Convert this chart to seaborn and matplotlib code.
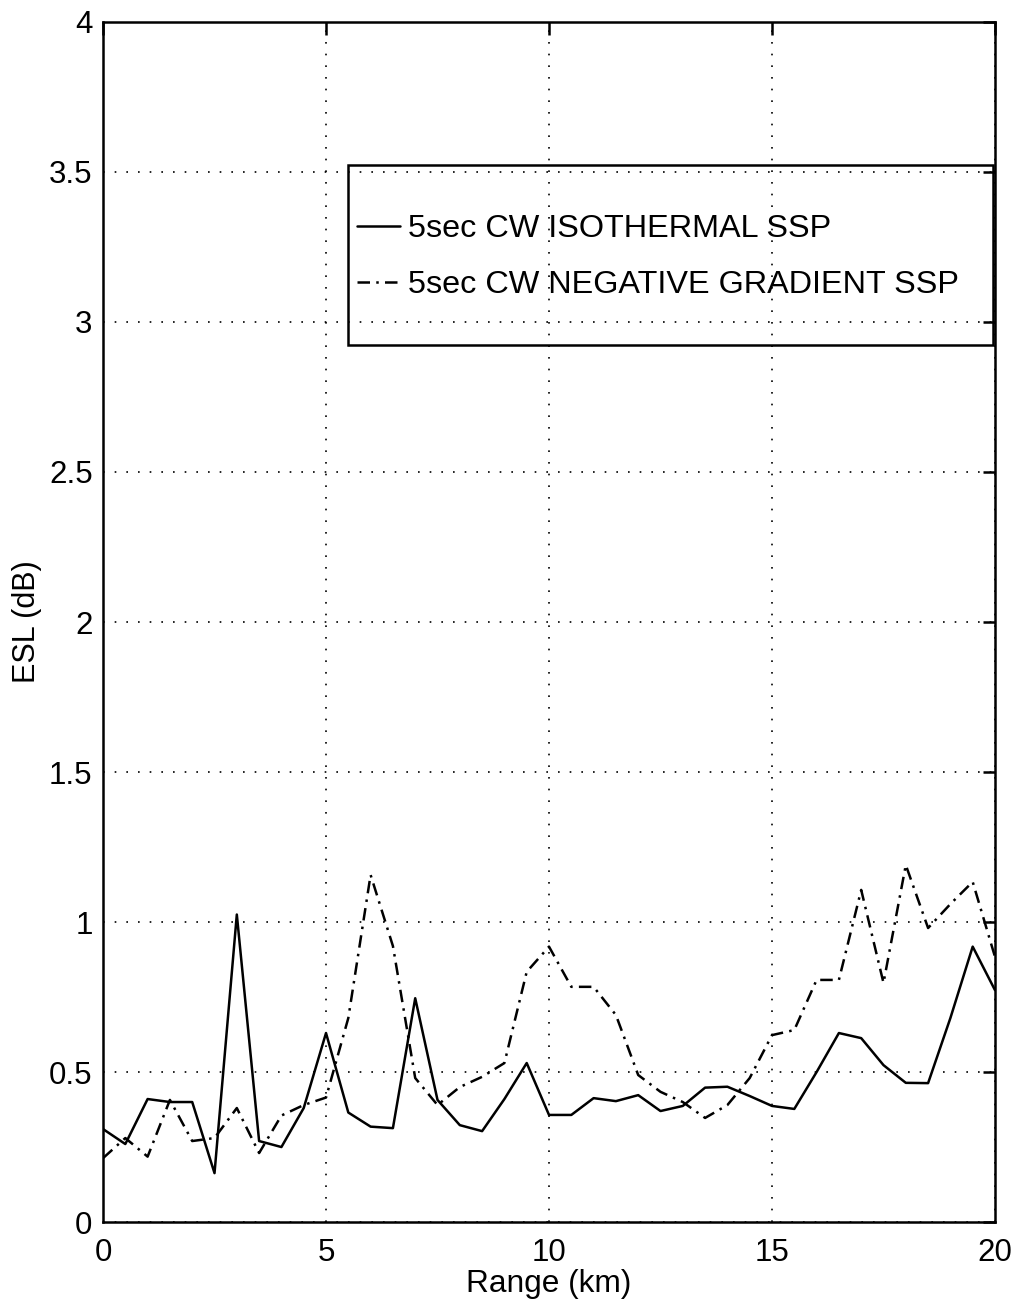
import numpy as np
import pandas as pd
import seaborn as sns
import matplotlib
matplotlib.use("Agg")
import matplotlib.pyplot as plt
from matplotlib.patches import Rectangle
from matplotlib.ticker import FuncFormatter

# Range samples (km) and equivalent source level error for the two sound speed profiles
range_km = [0.0, 0.5, 1.0, 1.5, 2.0, 2.5, 3.0, 3.5, 4.0, 4.5, 5.0,
            5.5, 6.0, 6.5, 7.0, 7.5, 8.0, 8.5, 9.0, 9.5, 10.0,
            10.5, 11.0, 11.5, 12.0, 12.5, 13.0, 13.5, 14.0, 14.5, 15.0,
            15.5, 16.0, 16.5, 17.0, 17.5, 18.0, 18.5, 19.0, 19.5, 20.0]

esl_isothermal = [0.31, 0.26, 0.41, 0.40, 0.40, 0.163, 1.025, 0.27, 0.25, 0.38, 0.63,
                  0.365, 0.318, 0.313, 0.746, 0.407, 0.323, 0.303, 0.41, 0.53, 0.357,
                  0.357, 0.413, 0.403, 0.423, 0.37, 0.387, 0.448, 0.451, 0.42, 0.387,
                  0.377, 0.50, 0.63, 0.613, 0.523, 0.464, 0.463, 0.68, 0.918, 0.773]

esl_neg_gradient = [0.213, 0.28, 0.218, 0.407, 0.27, 0.28, 0.38, 0.23, 0.355, 0.39, 0.415,
                    0.68, 1.157, 0.92, 0.48, 0.39, 0.45, 0.484, 0.53, 0.834, 0.918,
                    0.784, 0.784, 0.69, 0.49, 0.434, 0.40, 0.347, 0.39, 0.48, 0.623,
                    0.64, 0.807, 0.807, 1.107, 0.797, 1.19, 0.98, 1.06, 1.134, 0.884]

label_iso = "5sec CW ISOTHERMAL SSP"
label_neg = "5sec CW NEGATIVE GRADIENT SSP"

x_ticks = [0, 5, 10, 15, 20]
y_ticks = [0, 0.5, 1, 1.5, 2, 2.5, 3, 3.5, 4]

df = pd.DataFrame({
    "Range": range_km * 2,
    "ESL": esl_isothermal + esl_neg_gradient,
    "profile": [label_iso] * len(range_km) + [label_neg] * len(range_km),
})

sns.set_style("white")
plt.rcParams["font.family"] = ["Liberation Sans", "DejaVu Sans"]
plt.rcParams["text.color"] = "black"
plt.rcParams["axes.labelcolor"] = "black"

fig = plt.figure(figsize=(10.18, 13.07), dpi=100)
ax = fig.add_axes([0.1012, 0.065, 0.8762, 0.9182])

sns.lineplot(data=df, x="Range", y="ESL", style="profile",
             dashes={label_iso: "", label_neg: (5, 2.5, 1, 2.5)},
             color="black", linewidth=1.8, legend=False, ax=ax,
             estimator=None, sort=False)

ax.set_xlim(0, 20)
ax.set_ylim(0, 4)
ax.set_xticks(x_ticks)
ax.set_yticks(y_ticks)
fmt = FuncFormatter(lambda v, p: f"{v:g}")
ax.xaxis.set_major_formatter(fmt)
ax.yaxis.set_major_formatter(fmt)

ax.grid(True, color="black", linestyle=(0, (1, 6)), linewidth=1.2)
for s in ax.spines.values():
    s.set_visible(True)
    s.set_color("black")
    s.set_linewidth(1.8)

ax.tick_params(direction="in", length=9, width=1.8, top=True, right=True,
               labelsize=22.5, colors="black", labelcolor="black")
ax.tick_params(axis="x", pad=11.5)
ax.tick_params(axis="y", pad=7.5)
ax.set_xlabel("Range (km)", fontsize=22.8, labelpad=1, color="black")
ax.set_ylabel("ESL (dB)", fontsize=22, labelpad=5, color="black")

# Legend drawn inside an outlined, unfilled box
lines = ax.get_lines()
leg = ax.legend(lines[:2], [label_iso, label_neg], loc="center left",
                bbox_to_anchor=(0.2848, 0.8042), frameon=False,
                prop={"size": 23.3}, labelcolor="black",
                handlelength=1.33, handletextpad=0.25, labelspacing=0.8,
                borderpad=0, borderaxespad=0)
ax.add_patch(Rectangle((0.2747, 0.7308), 0.7231, 0.15, transform=ax.transAxes,
                       fill=False, edgecolor="black", linewidth=1.8, zorder=5))

fig.savefig("out.png", dpi=100, facecolor="white")
